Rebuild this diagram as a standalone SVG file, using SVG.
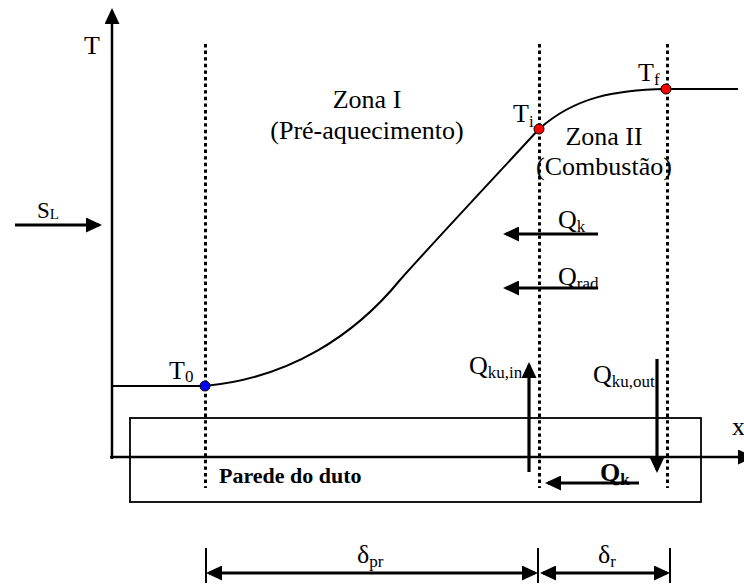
<svg xmlns="http://www.w3.org/2000/svg" width="744" height="586" viewBox="0 0 744 586">
<defs>
<marker id="ah" markerUnits="userSpaceOnUse" markerWidth="16" markerHeight="15" refX="13" refY="7.5" orient="auto" viewBox="0 0 16 15"><path d="M0,0 L16,7.5 L0,15 z" fill="#000"/></marker>
<style>
text{font-family:"Liberation Serif","Times New Roman",serif;fill:#000}
.t{font-size:26px}
.s{font-size:17px}
.b{font-weight:bold}
.m{text-anchor:middle}
.dot{stroke:#000;stroke-width:3;stroke-dasharray:3.4 3.2;fill:none}
.arr{stroke:#000;stroke-width:3.2;fill:none;marker-end:url(#ah)}
.ax{stroke:#000;stroke-width:2.5;fill:none;marker-end:url(#ah)}
.thin{stroke:#000;stroke-width:2;fill:none}
.pt{stroke:#000;stroke-width:1}
</style>
</defs>
<rect width="744" height="586" fill="#fff"/>

<g id="axes">
<line class="ax" x1="112" y1="459" x2="112" y2="11"/>
<line class="ax" x1="110" y1="457" x2="751" y2="457"/>
<text class="t" x="84" y="54">T</text>
<text class="t" x="732" y="435">x</text>
</g>

<g id="wall">
<rect x="130" y="418" width="571" height="84" fill="none" stroke="#000" stroke-width="1.8"/>
<text class="b" font-size="22" x="219" y="483">Parede do duto</text>
</g>

<g id="zone-bounds">
<line class="dot" x1="205.5" y1="44" x2="205.5" y2="488"/>
<line class="dot" x1="539.5" y1="44" x2="539.5" y2="488"/>
<line class="dot" x1="667.5" y1="44" x2="667.5" y2="488"/>
</g>

<g id="curve">
<path class="thin" d="M112,386 L205,386 C290,378 355,335 400,280 C430,246 505,166 539,129 C575,97 615,90 666,89 L738,89"/>
</g>

<g id="zone1">
<text class="t m" x="367" y="108">Zona I</text>
<text class="t m" x="367" y="139">(Pré-aquecimento)</text>
</g>
<g id="zone2">
<text class="t m" x="604" y="145">Zona II</text>
<text class="t m" x="604" y="175">(Combustão)</text>
</g>

<g id="T0">
<circle class="pt" cx="205" cy="386" r="5" fill="#0000ff"/>
<text class="t" x="169" y="379">T<tspan class="s" dy="3">0</tspan></text>
</g>
<g id="Ti">
<circle class="pt" cx="539" cy="129" r="5" fill="#ff0000"/>
<text class="t" x="513" y="122">T<tspan class="s" dy="5">i</tspan></text>
</g>
<g id="Tf">
<circle class="pt" cx="666" cy="89" r="5" fill="#ff0000"/>
<text class="t" x="638" y="81">T<tspan class="s" dy="4">f</tspan></text>
</g>

<g id="connectors">
<line class="arr" x1="15" y1="225" x2="99" y2="225"/>
<line class="arr" x1="598" y1="234" x2="506" y2="234"/>
<line class="arr" x1="598" y1="288" x2="506" y2="288"/>
<line class="arr" x1="529" y1="472" x2="529" y2="365"/>
<line class="arr" x1="657" y1="359" x2="657" y2="470"/>
<line class="arr" x1="639" y1="483" x2="548" y2="483"/>
<line class="thin" x1="206" y1="548" x2="206" y2="583"/>
<line class="thin" x1="538" y1="548" x2="538" y2="583"/>
<line class="thin" x1="670" y1="548" x2="670" y2="583"/>
<line class="arr" x1="372" y1="573" x2="209" y2="573"/>
<line class="arr" x1="372" y1="573" x2="535" y2="573"/>
<line class="arr" x1="604" y1="573" x2="543" y2="573"/>
<line class="arr" x1="604" y1="573" x2="667" y2="573"/>
</g>

<g id="labels">
<text font-size="23" x="37" y="218">S<tspan font-size="15" dy="1">L</tspan></text>
<text class="t" x="558" y="228">Q<tspan class="s" dy="4">k</tspan></text>
<text class="t" x="558" y="285">Q<tspan class="s" dy="4">rad</tspan></text>
<text class="t" x="469" y="374">Q<tspan class="s" dy="4">ku,in</tspan></text>
<text class="t" x="593" y="383">Q<tspan class="s" dy="4">ku,out</tspan></text>
<text class="t b" x="600" y="481">Q<tspan class="s" dy="4">k</tspan></text>
<text class="t" x="357" y="563">δ<tspan class="s" dy="4">pr</tspan></text>
<text class="t" x="598" y="563">δ<tspan class="s" dy="4">r</tspan></text>
</g>
</svg>
